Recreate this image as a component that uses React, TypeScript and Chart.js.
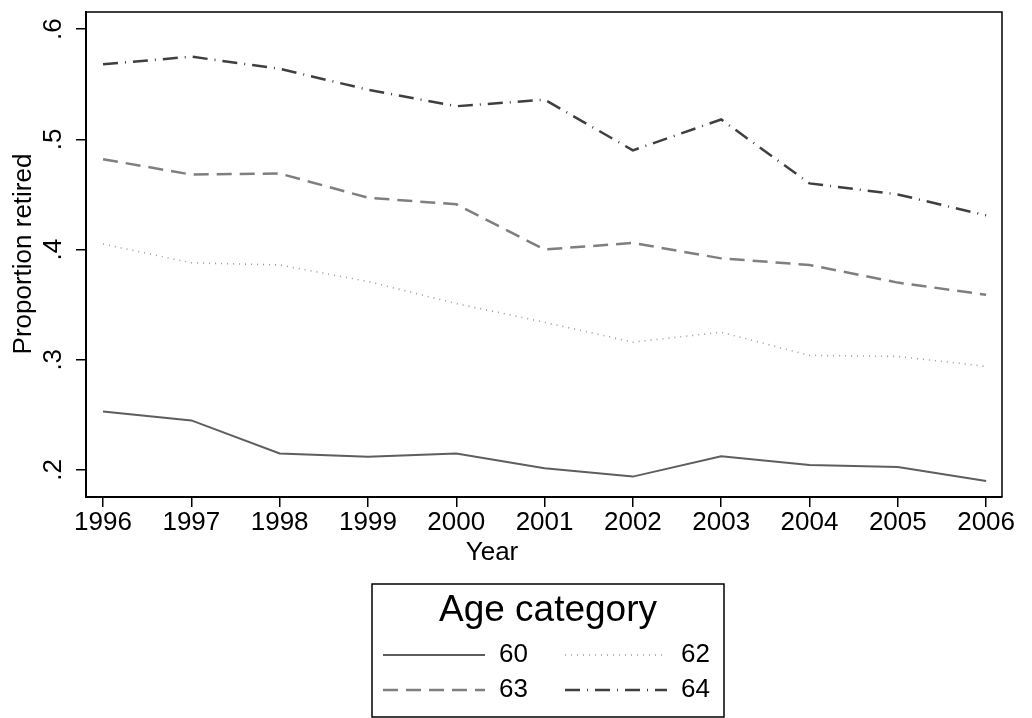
import React, { useEffect, useRef } from "react";
import { Chart, registerables } from "chart.js";
Chart.register(...registerables);

const years = [1996, 1997, 1998, 1999, 2000, 2001, 2002, 2003, 2004, 2005, 2006];
const age60 = [0.253, 0.245, 0.215, 0.212, 0.215, 0.2015, 0.194, 0.2124, 0.2045, 0.2027, 0.190];
const age62 = [0.405, 0.388, 0.386, 0.371, 0.351, 0.334, 0.316, 0.325, 0.304, 0.303, 0.294];
const age63 = [0.482, 0.468, 0.469, 0.447, 0.441, 0.400, 0.406, 0.392, 0.386, 0.370, 0.359];
const age64 = [0.568, 0.575, 0.564, 0.545, 0.530, 0.536, 0.490, 0.518, 0.460, 0.450, 0.431];
const seriesLabels = ["60", "62", "63", "64"];
const yTicks = [0.2, 0.3, 0.4, 0.5, 0.6];
const yTickLabels = [".2", ".3", ".4", ".5", ".6"];
const xTickLabels = years.map((y) => String(y));
const yTitle = "Proportion retired";
const xTitle = "Year";
const legendTitle = "Age category";

const FONT = "'Liberation Sans', Arial, Helvetica, sans-serif";

const styles = [
  { color: "#5e5e5e", dash: [] as number[], width: 2 },
  { color: "#9a9a9a", dash: [1, 5], width: 1.6 },
  { color: "#7f7f7f", dash: [15, 8], width: 2.5 },
  { color: "#3f3f3f", dash: [15, 7, 1, 7], width: 2.5 },
];

const series = [age60, age62, age63, age64];

const customDraw = {
  id: "customDraw",
  afterDraw(chart: any) {
    const ctx = chart.ctx as CanvasRenderingContext2D;
    const area = chart.chartArea;
    const xs = chart.scales.x;
    const ys = chart.scales.y;
    ctx.save();
    // frame top/right
    ctx.strokeStyle = "#000";
    ctx.lineWidth = 1.5;
    ctx.beginPath();
    ctx.moveTo(area.left, area.top);
    ctx.lineTo(area.right, area.top);
    ctx.lineTo(area.right, area.bottom);
    ctx.stroke();

    ctx.fillStyle = "#000";
    ctx.font = `26px ${FONT}`;
    ctx.textAlign = "center";
    ctx.textBaseline = "middle";
    // x tick labels
    years.forEach((yr, i) => {
      ctx.fillText(xTickLabels[i], xs.getPixelForValue(yr), 523);
    });
    // y tick labels rotated
    yTicks.forEach((v, i) => {
      ctx.save();
      ctx.translate(54, ys.getPixelForValue(v));
      ctx.rotate(-Math.PI / 2);
      ctx.fillText(yTickLabels[i], 0, 0);
      ctx.restore();
    });
    // y title
    ctx.save();
    ctx.translate(24, 254);
    ctx.rotate(-Math.PI / 2);
    ctx.fillText(yTitle, 0, 0);
    ctx.restore();
    // x title
    ctx.fillText(xTitle, 492, 553);

    // legend
    const bx = 372, by = 584, bw = 352, bh = 133;
    ctx.lineWidth = 1.5;
    ctx.strokeStyle = "#000";
    ctx.fillStyle = "#fff";
    ctx.fillRect(bx, by, bw, bh);
    ctx.strokeRect(bx, by, bw, bh);
    ctx.fillStyle = "#000";
    ctx.font = `37px ${FONT}`;
    ctx.fillText(legendTitle, bx + bw / 2, 611);
    ctx.font = `26px ${FONT}`;
    ctx.textAlign = "left";
    const colX = [383, 565];
    const rowY = [655, 690];
    chart.data.datasets.forEach((ds: any, i: number) => {
      const c = i % 2;
      const r = Math.floor(i / 2);
      const x0 = colX[c];
      const y0 = rowY[r];
      ctx.save();
      ctx.strokeStyle = ds.borderColor;
      ctx.lineWidth = ds.borderWidth;
      ctx.setLineDash(ds.borderDash || []);
      ctx.beginPath();
      ctx.moveTo(x0, y0);
      ctx.lineTo(x0 + 102, y0);
      ctx.stroke();
      ctx.restore();
      ctx.fillStyle = "#000";
      ctx.fillText(ds.label, x0 + 116, y0);
    });
    ctx.restore();
  },
};

export default function App() {
  const ref = useRef<HTMLCanvasElement>(null);
  useEffect(() => {
    if (!ref.current) return;
    const chart = new Chart(ref.current, {
      type: "line",
      data: {
        datasets: series.map((vals, i) => ({
          label: seriesLabels[i],
          data: years.map((yr, j) => ({ x: yr, y: vals[j] })),
          borderColor: styles[i].color,
          borderWidth: styles[i].width,
          borderDash: styles[i].dash,
          pointRadius: 0,
          fill: false,
          tension: 0,
        })),
      },
      plugins: [customDraw],
      options: {
        animation: false,
        responsive: false,
        devicePixelRatio: 1,
        layout: { padding: { left: 0, top: 12, right: 30, bottom: 0 } },
        plugins: { legend: { display: false }, tooltip: { enabled: false } },
        scales: {
          x: {
            type: "linear",
            min: 1995.807,
            max: 2006.18,
            afterBuildTicks: (s: any) => {
              s.ticks = years.map((v) => ({ value: v }));
            },
            afterFit: (s: any) => {
              s.height = 221;
            },
            ticks: { display: false },
            grid: {
              display: true,
              drawOnChartArea: false,
              drawTicks: true,
              tickLength: 10,
              color: "#000",
              lineWidth: 1.5,
            },
            border: { display: true, color: "#000", width: 2 },
          },
          y: {
            type: "linear",
            min: 0.1755,
            max: 0.6155,
            afterBuildTicks: (s: any) => {
              s.ticks = yTicks.map((v) => ({ value: v }));
            },
            afterFit: (s: any) => {
              s.width = 86;
            },
            ticks: { display: false },
            grid: {
              display: true,
              drawOnChartArea: false,
              drawTicks: true,
              tickLength: 10,
              color: "#000",
              lineWidth: 1.5,
            },
            border: { display: true, color: "#000", width: 2 },
          },
        },
      },
    });
    return () => chart.destroy();
  }, []);
  return (
    <div style={{ position: "absolute", left: 0, top: 0, width: 1032, height: 718, background: "#fff" }}>
      <canvas ref={ref} width={1032} height={718} style={{ display: "block", width: 1032, height: 718 }} />
    </div>
  );
}
